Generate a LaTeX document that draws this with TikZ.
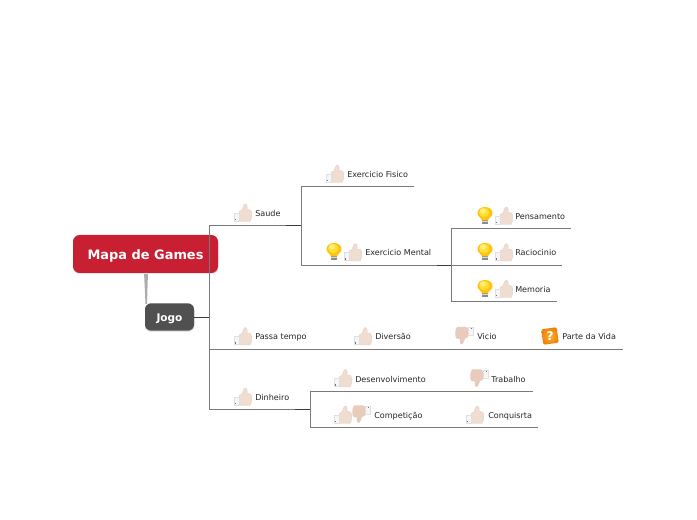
\documentclass[tikz,border=0pt]{standalone}
\usepackage{fontspec}
\setmainfont{DejaVu Sans}
\definecolor{rootred}{HTML}{C82032}
\definecolor{jogogray}{HTML}{505050}
\definecolor{linegray}{HTML}{7A7A7A}
\definecolor{linedark}{HTML}{3C3C3C}
\definecolor{skin}{HTML}{F0DDD2}
\definecolor{skinedge}{HTML}{E8CDBE}
\definecolor{skindown}{HTML}{E8CBBB}
\definecolor{cuff}{HTML}{F6F6F6}
\definecolor{cuffline}{HTML}{E0E0E0}
\definecolor{bulbhi}{HTML}{FFF07A}
\definecolor{bulbmid}{HTML}{FFDD33}
\definecolor{bulbout}{HTML}{FFC20E}
\definecolor{orangein}{HTML}{FFB030}
\definecolor{orangeout}{HTML}{EE7F08}
\tikzset{
  x=0.75pt,y=-0.75pt,
  rootbox/.style={fill=rootred,rounded corners=5pt,text=white,font=\bfseries\fontsize{9.7}{12}\selectfont,minimum width=108.75pt,minimum height=28.5pt,inner sep=0pt,text height=9pt,text depth=0.7pt},
  jogobox/.style={fill=jogogray,rounded corners=4.5pt,text=white,font=\bfseries\fontsize{7.9}{9}\selectfont,minimum width=36.75pt,minimum height=20.5pt,inner sep=0pt,text height=7.2pt,text depth=0pt},
  shadowbox/.style={fill=black!10,draw=none},
  topic/.style={anchor=west,inner sep=0pt,yshift=-0.6pt,text=black!85,font=\fontsize{6.05}{8}\selectfont},
  branch/.style={draw=linegray,line width=0.75pt},
  trunk/.style={draw=linedark,line width=0.75pt},
  thumbup/.pic={
    \fill[skin,draw=skinedge,line width=0.3pt] (-4,-1.5) -- (-1,-3) -- (1,-8) .. controls (2.5,-10) and (5,-8.5) .. (4,-3.5) -- (7.5,-3) .. controls (9.5,-1) and (9,6) .. (7,8.5) -- (-2,8.5) -- (-4,7) -- cycle;
    \fill[cuff,draw=cuffline,line width=0.25pt] (-9,0) rectangle (-4,8);
    \fill[black!55] (-7.8,6) rectangle (-6.6,7.2);
  },
  thumbdown/.pic={
    \fill[skindown] (4,1.5) -- (1,3) -- (-1,8) .. controls (-2.5,10) and (-5,8.5) .. (-4,3.5) -- (-7.5,3) .. controls (-9.5,1) and (-9,-6) .. (-7,-8.5) -- (2,-8.5) -- (4,-7) -- cycle;
    \fill[cuff,draw=cuffline,line width=0.25pt] (9,0) rectangle (4,-8);
    \fill[black!55] (7.8,-6) rectangle (6.6,-7.2);
  },
  bulbicon/.pic={
    \fill[black!45] (-2.6,4) rectangle (2.6,8.5);
    \fill[black!15] (-2.6,5.5) rectangle (2.6,6.5);
    \fill[bulbout] (0,-9) .. controls (-5,-9) and (-7.5,-6) .. (-7.5,-2.5) .. controls (-7.5,0.5) and (-3.2,2) .. (-3,4.5) -- (3,4.5) .. controls (3.2,2) and (7.5,0.5) .. (7.5,-2.5) .. controls (7.5,-6) and (5,-9) .. (0,-9) -- cycle;
    \fill[bulbmid] (-0.8,-3.5) ellipse [x radius=5.2,y radius=4.8];
    \fill[bulbhi] (-2,-5) ellipse [x radius=3,y radius=2.6];
  },
  questicon/.pic={
    \shade[rotate=8,rounded corners=1.5pt,inner color=orangein,outer color=orangeout] (-7.8,-7.8) rectangle (7.8,7.8);
    \node[inner sep=0pt,text=white,font=\bfseries\fontsize{9}{9}\selectfont] (qmark) at (0,0) {?};
  }
}
\begin{document}
\begin{tikzpicture}
\useasboundingbox (0,0) rectangle (697,520);
\fill[white] (0,0) rectangle (697,520);

% hub points of the tree
\begin{scope}[shift={(0,0.8)}]
\coordinate (hubA) at (209,317);
\coordinate (hubTop) at (209,225);
\coordinate (hubMid) at (209,349);
\coordinate (hubBot) at (209,409);
\coordinate (saudeV) at (301,225);
\coordinate (fisicoV) at (301,186);
\coordinate (mentalV) at (301,265);
\coordinate (mentalR) at (451,265);
\coordinate (pensV) at (451,228);
\coordinate (memV) at (451,301);
\coordinate (dinhV) at (310,409);
\coordinate (desV) at (310,391);
\coordinate (compV) at (310,427);
\coordinate (fisicoEnd) at (414,186);
\coordinate (pensEnd) at (571,228);
\coordinate (racEnd) at (562,265);
\coordinate (memEnd) at (557,301);
\coordinate (parteEnd) at (623,349);
\coordinate (trabEnd) at (533,391);
\coordinate (conqEnd) at (538,427);
\coordinate (saudeD) at (286,225);
\coordinate (mentalD) at (437,265);
\coordinate (dinhD) at (295,409);
\end{scope}

% tapered link from the root to Jogo
\fill[black!32] (144,272) -- (148,272) -- (147,304) -- (145.5,304) -- cycle;

% boxes
\fill[shadowbox,rounded corners=5pt] (73,236) rectangle (218.5,274);
\fill[shadowbox,rounded corners=4.5pt] (145,304) rectangle (194.5,332);
\node[rootbox] (root) at (145.5,254) {Mapa de Games};
\node[jogobox] (jogo) at (169.5,317) {Jogo};

% connectors
\draw[trunk] (jogo.east |- hubA) -- (hubA);
\draw[branch] (hubTop) -- (hubBot);
\draw[branch] (hubTop) -- (saudeV);
\draw[trunk] (saudeD) -- (saudeV);
\draw[branch] (fisicoV) -- (mentalV);
\draw[branch] (fisicoV) -- (fisicoEnd);
\draw[branch] (mentalV) -- (mentalR);
\draw[trunk] (mentalD) -- (mentalR);
\draw[branch] (pensV) -- (memV);
\draw[branch] (pensV) -- (pensEnd);
\draw[branch] (mentalR) -- (racEnd);
\draw[branch] (memV) -- (memEnd);
\draw[branch] (hubMid) -- (parteEnd);
\draw[branch] (hubBot) -- (dinhV);
\draw[trunk] (dinhD) -- (dinhV);
\draw[branch] (desV) -- (compV);
\draw[branch] (desV) -- (trabEnd);
\draw[branch] (compV) -- (conqEnd);

% labels
\node[topic] (saude) at (255,213) {Saude};
\node[topic] (fisico) at (347,174) {Exercicio Fisico};
\node[topic] (mental) at (365,252) {Exercicio Mental};
\node[topic] (pens) at (515,216) {Pensamento};
\node[topic] (rac) at (515,252) {Raciocinio};
\node[topic] (mem) at (515,289) {Memoria};
\node[topic] (passa) at (255,336.6) {Passa tempo};
\node[topic] (divers) at (375,336) {Diversão};
\node[topic] (vicio) at (477,336) {Vicio};
\node[topic] (parte) at (562,336) {Parte da Vida};
\node[topic] (dinh) at (255,397) {Dinheiro};
\node[topic] (desenv) at (355,379) {Desenvolvimento};
\node[topic] (trab) at (491,379) {Trabalho};
\node[topic] (comp) at (374,415) {Competição};
\node[topic] (conq) at (488,415) {Conquisrta};

% icons
\pic at (243,213) {thumbup};
\pic at (335,174) {thumbup};
\pic at (353,252.5) {thumbup};
\pic at (334,252) {bulbicon};
\pic at (504,216) {thumbup};
\pic at (485,216) {bulbicon};
\pic at (504,252.5) {thumbup};
\pic at (485,252) {bulbicon};
\pic at (504,289) {thumbup};
\pic at (485,289) {bulbicon};
\pic at (243,336.5) {thumbup};
\pic at (363,336.5) {thumbup};
\pic at (464,335.5) {thumbdown};
\pic at (550,336) {questicon};
\pic at (243,397) {thumbup};
\pic at (343,378.5) {thumbup};
\pic at (479,378) {thumbdown};
\pic at (343,415) {thumbup};
\pic at (361,414) {thumbdown};
\pic at (475,415) {thumbup};
\end{tikzpicture}
\end{document}
